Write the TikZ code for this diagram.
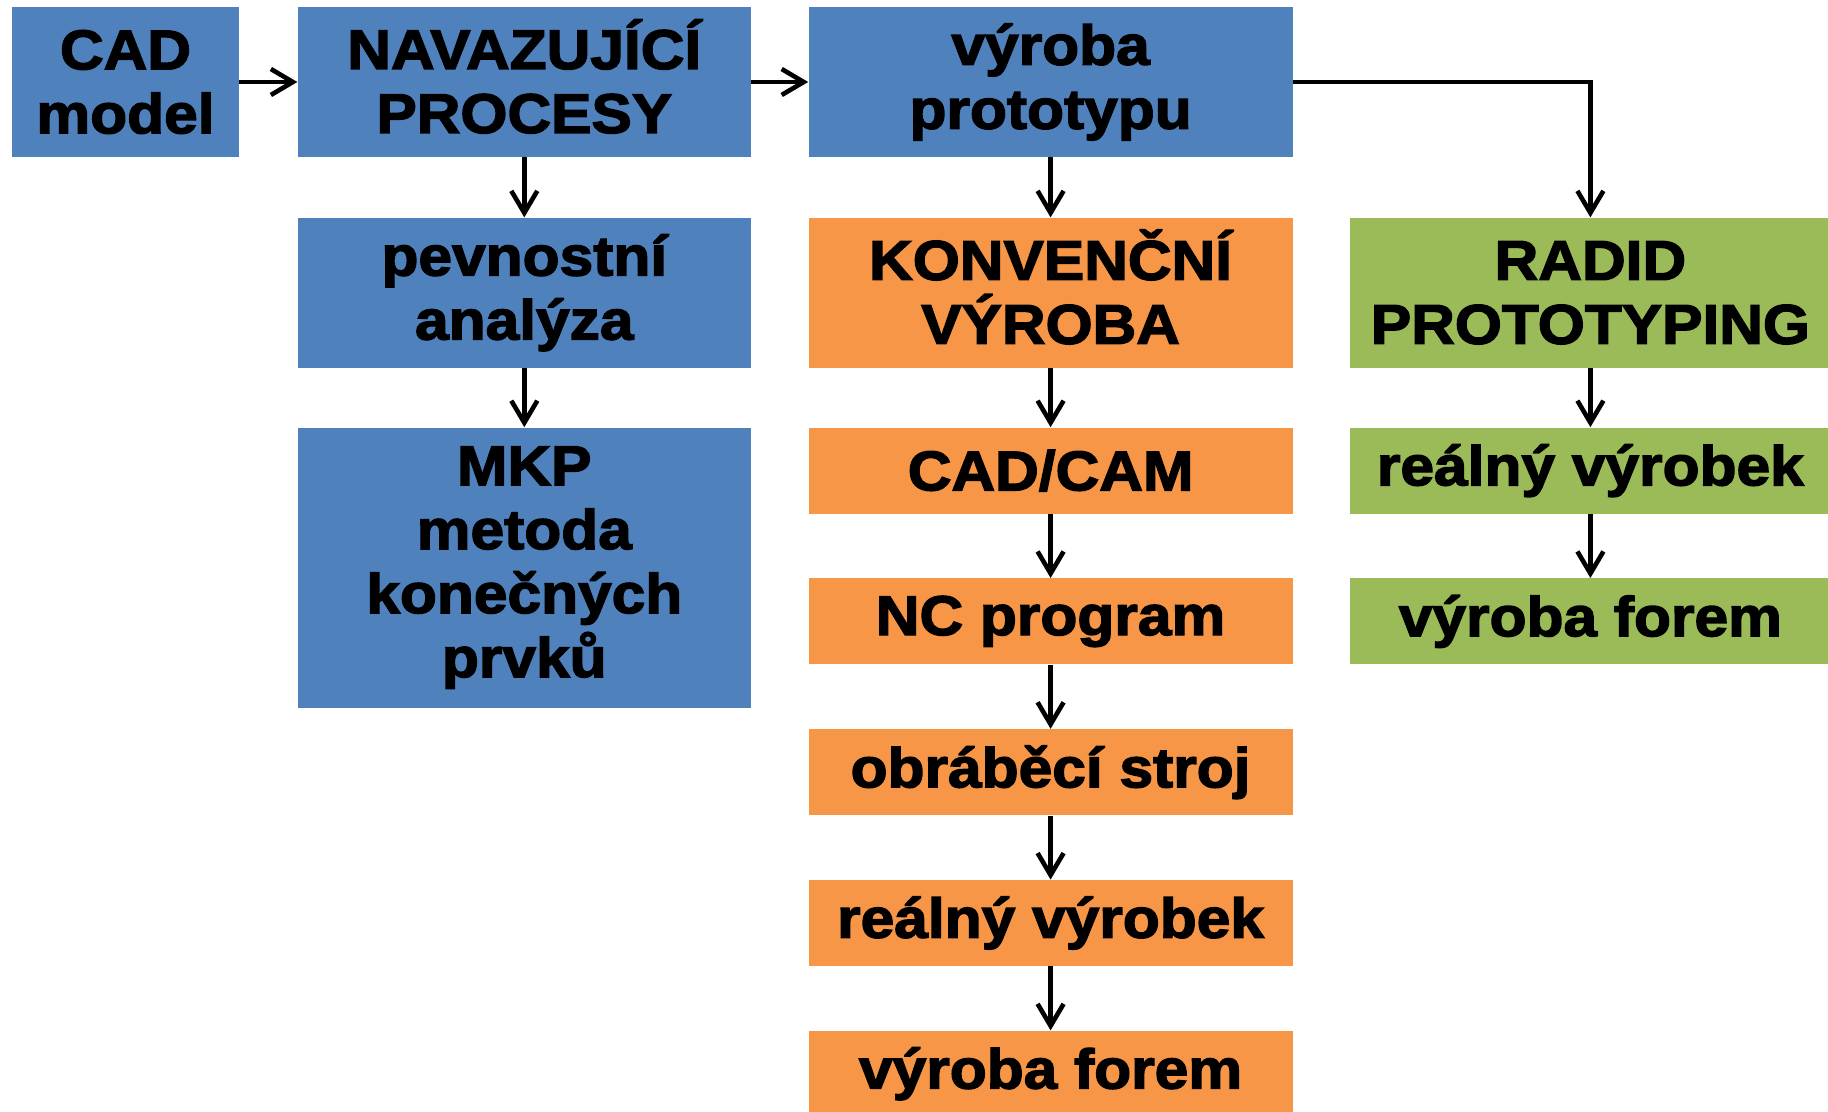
\documentclass[tikz,border=0pt]{standalone}
\usepackage{fontspec}
\newfontfamily\boxfont[FakeStretch=1.08,BoldFeatures={FakeBold=2.5}]{Liberation Sans}
\usetikzlibrary{positioning,arrows.meta}
\definecolor{modra}{HTML}{4F81BD}
\definecolor{oranz}{HTML}{F79646}
\definecolor{zelena}{HTML}{9BBB59}
\newcommand\bezakcentu[1]{\smash{#1}\vphantom{A}}

\begin{document}
\begin{tikzpicture}[x=1pt,y=-1pt,node distance=29pt,
        box/.style={rectangle,inner sep=0pt,align=center,minimum height=75pt,
            font=\boxfont\bfseries\fontsize{28}{32}\selectfont},
        small/.style={minimum height=43pt},
        modrybox/.style={box,fill=modra},
        oranzbox/.style={box,fill=oranz,minimum width=242pt},
        zelenybox/.style={box,fill=zelena,minimum width=240pt},
        sipka/.style={->,>={Straight Barb[length=11pt,width=13pt]},line width=2.3pt}]
        \useasboundingbox (0,0) rectangle (914,556);
        % uzly
        \node[modrybox,minimum width=113.5pt] (cad) at (62.75,41) {CAD\\model};
        \node[modrybox,minimum width=226.5pt] (nav) [right=29pt of cad] {\bezakcentu{NAVAZUJÍCÍ}\\PROCESY};
        \node[modrybox,minimum width=242pt] (proto) [right=28.5pt of nav] {výroba\\prototypu};
        \node[modrybox,minimum width=226.5pt] (pev) [below=30pt of nav] {pevnostní\\analýza};
        \node[modrybox,minimum width=226.5pt,minimum height=140pt] (mkp) [below=29.5pt of pev]
            {MKP\\metoda\\konečných\\prvků};
        \node[oranzbox] (konv) [below=30pt of proto] {\bezakcentu{KONVENČNÍ}\\VÝROBA};
        \node[oranzbox,small] (cam) [below=29.5pt of konv] {CAD/CAM};
        \node[oranzbox,small] (nc) [below=32pt of cam] {NC program};
        \node[oranzbox,small] (stroj) [below=32pt of nc] {obráběcí stroj};
        \node[oranzbox,small] (vyrobek) [below=32pt of stroj] {reálný výrobek};
        \node[oranzbox,small] (formy) [below=32pt of vyrobek] {výroba forem};
        \node[zelenybox] (rp) [right=28.5pt of konv] {RADID\\PROTOTYPING};
        \node[zelenybox,small] (rpvyrobek) [below=29.5pt of rp] {reálný výrobek};
        \node[zelenybox,small] (rpformy) [below=32pt of rpvyrobek] {výroba forem};
        % sipky
        \path[sipka]
            (cad) edge (nav)
            (nav) edge (proto)
                  edge (pev)
            (pev) edge (mkp)
            (proto) edge (konv)
            (konv) edge (cam)
            (cam) edge (nc)
            (nc) edge (stroj)
            (stroj) edge (vyrobek)
            (vyrobek) edge (formy)
            (rp) edge (rpvyrobek)
            (rpvyrobek) edge (rpformy);
        \draw[sipka] (proto) -| (rp);
\end{tikzpicture}
\end{document}
